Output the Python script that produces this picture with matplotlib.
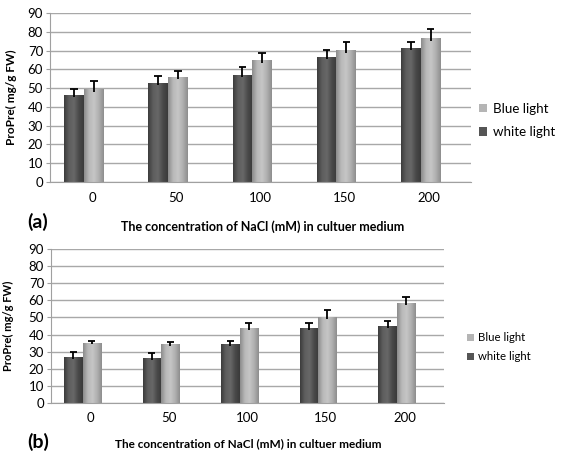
import numpy as np
import matplotlib.pyplot as plt
from matplotlib.colors import LinearSegmentedColormap

plt.rcParams['font.family'] = ['Lato', 'DejaVu Sans']

# NaCl concentration (mM)
categories = ['0', '50', '100', '150', '200']

# panel (a)
white_a = [46.3, 52.5, 56.8, 66.4, 71.3]
white_a_err = [3.3, 3.7, 4.6, 3.7, 3.1]
blue_a = [49.1, 55.7, 64.6, 69.9, 76.3]
blue_a_err = [4.5, 3.5, 4.2, 4.6, 5.2]

# panel (b)
white_b = [26.8, 26.2, 34.4, 43.7, 45.1]
white_b_err = [2.7, 2.9, 1.8, 2.9, 2.7]
blue_b = [35.2, 34.4, 43.7, 50.4, 58.6]
blue_b_err = [1.0, 1.2, 2.9, 4.1, 3.4]

yticks = list(range(0, 100, 10))

# horizontal shading to mimic the excel cylinder look
dark_cmap = LinearSegmentedColormap.from_list('dark', ['#3c3c3c', '#5e5e5e', '#686868', '#4a4a4a', '#3a3a3a'])
light_cmap = LinearSegmentedColormap.from_list('light', ['#8c8c8c', '#b8b8b8', '#c6c6c6', '#b0b0b0', '#8e8e8e'])
grad = np.linspace(0, 1, 64).reshape(1, -1)


def shade(ax, bars, cmap):
    for p in bars:
        x0 = p.get_x()
        ax.imshow(grad, extent=(x0, x0 + p.get_width(), 0, p.get_height()),
                  aspect='auto', cmap=cmap, zorder=2.5)


def up_err(ax, xpos, vals, errs):
    # only the upper half of the error bar, with a cap on top
    top = np.array(vals) + np.array(errs)
    ax.vlines(xpos, np.array(vals) - 1, top, color='black', linewidth=1.3, zorder=3)
    ax.hlines(top, xpos - 0.045, xpos + 0.045, color='black', linewidth=1.3, zorder=3)


def draw_panel(ax, white, white_err, blue, blue_err, fs_lab, fs_leg, leg_pos, lab_spacing, xlab_pos, ylab_x):
    x = np.arange(len(categories))
    w = 0.235
    b1 = ax.bar(x - 0.215, white, w, color='#555555', label='white light', zorder=2)
    b2 = ax.bar(x + 0.02, blue, w, color='#b5b5b5', label='Blue light', zorder=2)
    shade(ax, b1, dark_cmap)
    shade(ax, b2, light_cmap)
    up_err(ax, x - 0.215, white, white_err)
    up_err(ax, x + 0.02, blue, blue_err)

    ax.set_xlim(-0.5, 4.5)
    ax.set_ylim(0, 90)
    ax.set_yticks(yticks)
    ax.set_xticks(x)
    ax.set_xticklabels(categories)
    ax.yaxis.grid(True, color='#a8a8a8', linewidth=1.0)
    ax.set_axisbelow(True)
    for s in ['top', 'right']:
        ax.spines[s].set_visible(False)
    for s in ['left', 'bottom']:
        ax.spines[s].set_color('#a0a0a0')
    ax.tick_params(axis='x', length=0, pad=7, labelsize=9.5)
    ax.tick_params(axis='y', length=3, pad=2, color='#a0a0a0', labelsize=9.5)

    ax.set_ylabel('ProPre( mg/g FW)', fontsize=fs_lab - 0.5, fontweight='bold')
    ax.yaxis.set_label_coords(ylab_x, 0.5)
    ax.set_xlabel('The concentration of NaCl (mM) in cultuer medium', fontsize=fs_lab, fontweight='bold')
    ax.xaxis.set_label_coords(xlab_pos[0], xlab_pos[1])

    ax.legend([b2, b1], ['Blue light', 'white light'], loc='center left', bbox_to_anchor=leg_pos,
              bbox_transform=ax.figure.transFigure, frameon=False, fontsize=fs_leg,
              handlelength=0.6, handleheight=0.6, handletextpad=0.4, labelspacing=lab_spacing,
              borderpad=0, borderaxespad=0)


fig = plt.figure(figsize=(5.62, 4.54), dpi=100)
ax_a = fig.add_axes([50 / 562, 1 - 182 / 454, 421 / 562, 169 / 454])
ax_b = fig.add_axes([51 / 562, 1 - 402.7 / 454, 392.7 / 562, 153.4 / 454])

draw_panel(ax_a, white_a, white_a_err, blue_a, blue_a_err, 9, 9.6, (0.853, 0.735), 0.85,
           (0.506, -0.225), -0.078)
draw_panel(ax_b, white_b, white_b_err, blue_b, blue_b_err, 8.5, 8.2, (0.831, 0.235), 0.7,
           (0.502, -0.232), -0.094)

fig.text(27 / 562, 1 - 221.7 / 454, '(a)', fontsize=14, fontweight='bold', va='center', ha='left')
fig.text(27 / 562, 1 - 441.7 / 454, '(b)', fontsize=14, fontweight='bold', va='center', ha='left')

plt.savefig('out.png', dpi=100)
